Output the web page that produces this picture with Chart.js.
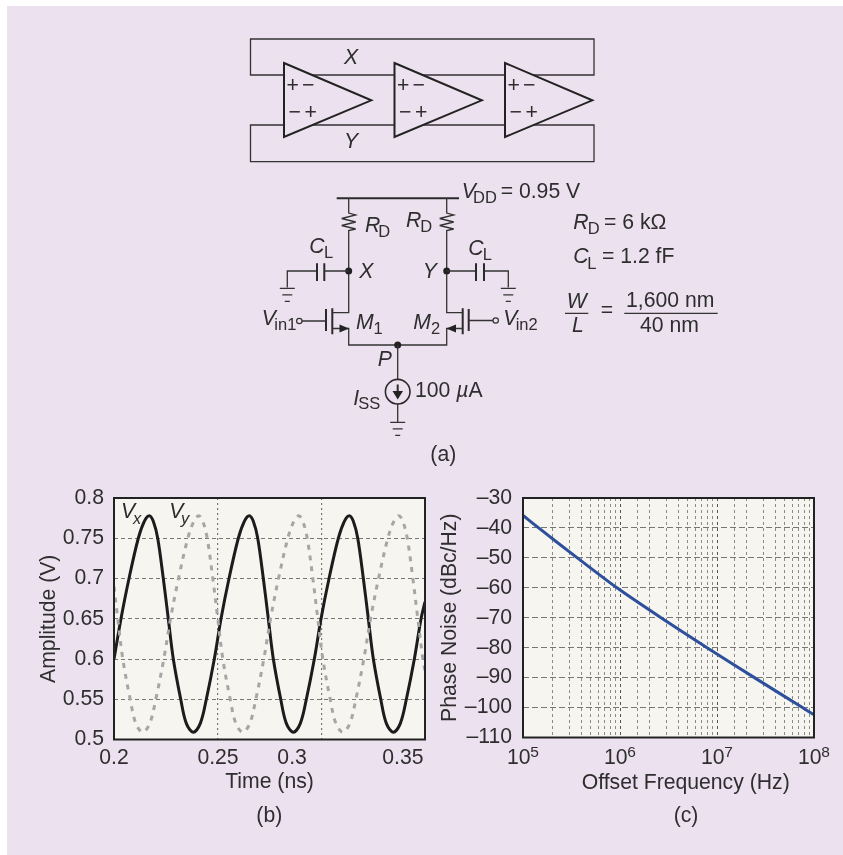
<!DOCTYPE html>
<html lang="en">

<head>
    <meta charset="UTF-8">
    <title>Ring oscillator</title>
    <style>
        body {
            margin: 0;
            background: #fff;
            width: 843px;
            height: 855px;
            overflow: hidden;
            position: relative;
            font-family: "Liberation Sans", Arial, sans-serif;
        }

        #panel {
            position: absolute;
            left: 7px;
            top: 6px;
            right: 0;
            bottom: 0;
            background: #ece1ef;
        }

        canvas {
            position: absolute;
            top: 470px;
        }

        #timeChart { left: 0; }
        #noiseChart { left: 430px; }

        svg {
            position: absolute;
            left: 0;
            top: 0;
            pointer-events: none;
        }

        svg text {
            font-family: "Liberation Sans", Arial, sans-serif;
            font-size: 21.2px;
            fill: #2e2e2e;
        }

        svg .i { font-style: italic; }
        svg text.s { font-size: 16.5px; }
        svg .w { fill: none; stroke: #333; stroke-width: 1.3; }
        svg .t { fill: none; stroke: #2a2a2a; stroke-width: 2; }
        svg .d { fill: #222; stroke: none; }
    </style>
</head>

<body>
    <div id="panel"></div>
    <canvas id="timeChart" width="430" height="360"></canvas>
    <canvas id="noiseChart" width="413" height="360"></canvas>

    <!-- schematic (a) and the loose labels -->
    <svg width="843" height="855" viewBox="0 0 843 855">
        <defs>
            <g id="amp">
                <path d="M284 63 L371.3 100.3 L284 137 Z" fill="#ece1ef" stroke="#222" stroke-width="2" />
                <text x="286.5" y="92">+</text>
                <text x="302" y="92">−</text>
                <text x="288.5" y="119">−</text>
                <text x="304.5" y="119">+</text>
            </g>
            <g id="gnd">
                <path class="w" d="M-7.5 0H7.5M-5 6.5H5M-2.5 13H2.5" stroke-width="1.6" />
            </g>
        </defs>

        <!-- ring of three stages -->
        <path class="w" d="M284 75H250.5V39H594V75H520M284 125H250.5V161.700H594V125H520M300 75H394.700M410 75H505M300 125H394.700M410 125H505" />
        <use href="#amp" />
        <use href="#amp" x="110.5" />
        <use href="#amp" x="221" />
        <text class="i" x="351" y="64" text-anchor="middle">X</text>
        <text class="i" x="351" y="148" text-anchor="middle">Y</text>

        <!-- supply rail and loads -->
        <path class="t" d="M336.7 198.3H459" />
        <path class="w" d="M348.7 198.3V213l7 2-14 3.500 14 3.500-14 3.500 14 3.500-7 1.500V312.700H332.300" />
        <path class="w" d="M446.700 198.300V213l7 2-14 3.500 14 3.500-14 3.500 14 3.500-7 1.500V312.700H462.700" />
        <circle class="d" cx="348.7" cy="271" r="3.5" />
        <circle class="d" cx="446.7" cy="271" r="3.5" />

        <!-- load capacitors -->
        <path class="w" d="M348.7 271H324.300M317 271H287.300V287.500M446.700 271H476M484 271H508.300V287.500" />
        <path class="t" d="M324.300 263.300V281M317 263.300V281M476 263.300V281M484 263.300V281" />
        <use href="#gnd" x="287.3" y="288.300" />
        <use href="#gnd" x="508.3" y="288.300" />

        <!-- input pair -->
        <path class="t" d="M332.300 308.300V334.300M326 309V331M462.700 308.300V334.300M468.700 309V331" />
        <path class="w" d="M326 321H302M468.700 320.500H493M332.300 328.500H348.700V345H446.700V328.500H462.700" />
        <path class="d" d="M349 328.500L339.500 324.500V332.500ZM446.400 328.500L456 324.500V332.500Z" />
        <circle cx="299.300" cy="321" r="2.700" fill="#ece1ef" stroke="#333" stroke-width="1.200" />
        <circle cx="495.700" cy="320.500" r="2.700" fill="#ece1ef" stroke="#333" stroke-width="1.200" />
        <circle class="d" cx="397.700" cy="345" r="3.500" />

        <!-- tail current source -->
        <path class="w" d="M397.700 345V379.400M397.700 404V422" />
        <circle cx="397.700" cy="391.700" r="12.300" fill="none" stroke="#2a2a2a" stroke-width="1.600" />
        <path class="t" d="M397.700 384.500V392" />
        <path class="d" d="M392.500 391H403L397.700 399.500Z" />
        <use href="#gnd" x="397.700" y="422.300" />

        <text class="i" x="461.700" y="198.300">V</text>
        <text class="s" x="473" y="203.300">DD</text>
        <text x="500.700" y="198.300">= 0.95 V</text>
        <text class="i" x="365" y="231.700">R</text>
        <text class="s" x="378.300" y="236.700">D</text>
        <text class="i" x="406" y="227.300">R</text>
        <text class="s" x="420.300" y="232.300">D</text>
        <text class="i" x="309.300" y="253.300">C</text>
        <text class="s" x="324" y="257.700">L</text>
        <text class="i" x="468.300" y="255">C</text>
        <text class="s" x="482.700" y="259.700">L</text>
        <text class="i" x="359.300" y="277.700">X</text>
        <text class="i" x="422.700" y="277.700">Y</text>
        <text class="i" x="261.700" y="325">V</text>
        <text class="s" x="274.300" y="330">in1</text>
        <text class="i" x="503.300" y="325">V</text>
        <text class="s" x="515.700" y="330">in2</text>
        <text class="i" x="356" y="329">M</text>
        <text class="s" x="373.500" y="334.300">1</text>
        <text class="i" x="413.300" y="329">M</text>
        <text class="s" x="431" y="334.300">2</text>
        <text class="i" x="377.700" y="365.700">P</text>
        <text class="i" x="353.300" y="405">I</text>
        <text class="s" x="358.300" y="409">SS</text>
        <text x="415" y="396.700">100 <tspan class="i">µ</tspan>A</text>
        <text x="443.300" y="461" text-anchor="middle">(a)</text>

        <text class="i" x="573.300" y="229">R</text>
        <text class="s" x="587.700" y="234">D</text>
        <text x="604" y="229">= 6 kΩ</text>
        <text class="i" x="573.300" y="263.300">C</text>
        <text class="s" x="587.300" y="269.300">L</text>
        <text x="602" y="263.300">= 1.2 fF</text>
        <text class="i" x="566.700" y="307.700">W</text>
        <path class="w" d="M565 313.300H588.300M624.300 313.300H717.700" />
        <text class="i" x="572" y="332.300">L</text>
        <text x="600.700" y="317">=</text>
        <text x="626" y="307.300">1,600 nm</text>
        <text x="640" y="332.300">40 nm</text>

        <!-- curve labels inside plot (b) -->
        <text class="i" x="121" y="518">V</text>
        <text class="i s" x="133" y="524">x</text>
        <text class="i" x="169.300" y="518">V</text>
        <text class="i s" x="181" y="524">y</text>

        <!-- off-centre in the original, so not a Chart.js axis title -->
        <text x="685.700" y="789" text-anchor="middle">Offset Frequency (Hz)</text>
        <text x="269.300" y="822" text-anchor="middle">(b)</text>
        <text x="686" y="822" text-anchor="middle">(c)</text>
    </svg>

    <script src="https://cdn.jsdelivr.net/npm/chart.js"></script>
    <script>
        // Plot (b): waveforms
        const vxTime = [0.2000, 0.20336, 0.20721, 0.21168, 0.21457, 0.21697, 0.21889, 0.22101, 0.2237, 0.2261, 0.22851, 0.23207, 0.23476, 0.23812,
            0.24149, 0.24438, 0.24822, 0.25144, 0.25529, 0.25976, 0.26265, 0.26505, 0.26697, 0.26909, 0.27178, 0.27418, 0.27659, 0.28015, 0.28284, 0.2862,
            0.28957, 0.29246, 0.2963, 0.29952, 0.30337, 0.30784, 0.31073, 0.31313, 0.31505, 0.31717, 0.31986, 0.32226, 0.32467, 0.32823, 0.33092, 0.33428,
            0.33765, 0.34054, 0.34438, 0.3476, 0.3495];
        const vxValues = [0.600, 0.650, 0.700, 0.750, 0.771, 0.778, 0.771, 0.750, 0.700, 0.650, 0.600, 0.550, 0.520, 0.509,
            0.520, 0.550, 0.600, 0.650, 0.700, 0.750, 0.771, 0.778, 0.771, 0.750, 0.700, 0.650, 0.600, 0.550, 0.520, 0.509,
            0.520, 0.550, 0.600, 0.650, 0.700, 0.750, 0.771, 0.778, 0.771, 0.750, 0.700, 0.650, 0.600, 0.550, 0.520, 0.509,
            0.520, 0.550, 0.600, 0.650, 0.671];
        const vyTime = [0.2000, 0.20182, 0.20423, 0.20779, 0.21048, 0.21384,
            0.21721, 0.2201, 0.22394, 0.22716, 0.23101, 0.23548, 0.23837, 0.24077, 0.24269, 0.24481, 0.2475, 0.2499, 0.25231, 0.25587, 0.25856, 0.26192,
            0.26529, 0.26818, 0.27202, 0.27524, 0.27909, 0.28356, 0.28645, 0.28885, 0.29077, 0.29289, 0.29558, 0.29798, 0.30039, 0.30395, 0.30664, 0.31,
            0.31337, 0.31626, 0.3201, 0.32332, 0.32717, 0.33164, 0.33453, 0.33693, 0.33885, 0.34097, 0.34366, 0.34606, 0.34847, 0.3495];
        const vyValues = [0.690, 0.650, 0.600, 0.550, 0.520, 0.509,
            0.520, 0.550, 0.600, 0.650, 0.700, 0.750, 0.771, 0.778, 0.771, 0.750, 0.700, 0.650, 0.600, 0.550, 0.520, 0.509,
            0.520, 0.550, 0.600, 0.650, 0.700, 0.750, 0.771, 0.778, 0.771, 0.750, 0.700, 0.650, 0.600, 0.550, 0.520, 0.509,
            0.520, 0.550, 0.600, 0.650, 0.700, 0.750, 0.771, 0.778, 0.771, 0.750, 0.700, 0.650, 0.600, 0.585];
        // the printed labels do not sit on the gridlines in the original
        const timeLabelAt = [0.2, 0.25, 0.2856, 0.3389];
        const timeLabels = ['0.2', '0.25', '0.3', '0.35'];
        const timeGridAt = [0.25, 0.3];

        // Plot (c): phase noise
        const offsetFreq = [1e5, 1.45e5, 3.63e5, 9.3e5, 2.65e6, 7.9e6, 2.43e7, 7.6e7, 1e8];
        const phaseNoise = [-35.8, -40, -50, -60, -70, -80, -90, -100, -102.4];
        const freqTicks = [1e5, 1e6, 1e7, 1e8];
        const freqExponents = ['5', '6', '7', '8'];

        const textColor = '#2e2e2e';
        const fontFamily = '"Liberation Sans", Arial, sans-serif';
        const tickFont = { family: fontFamily, size: 21.2 };

        // plot background and heavy frame
        const framePlugin = {
            id: 'frame',
            beforeDraw(chart) {
                const { ctx, chartArea: a } = chart;
                ctx.save();
                ctx.fillStyle = '#f6f5f0';
                ctx.fillRect(a.left, a.top, a.width, a.height);
                ctx.restore();
            },
            afterDatasetsDraw(chart) {
                const { ctx, chartArea: a } = chart;
                ctx.save();
                ctx.strokeStyle = '#222';
                ctx.lineWidth = 2;
                ctx.strokeRect(a.left, a.top, a.width, a.height);
                ctx.restore();
            }
        };

        // powers of ten with a proper raised exponent
        const powerLabels = {
            id: 'powerLabels',
            afterDraw(chart) {
                const { ctx, chartArea: a, scales } = chart;
                ctx.save();
                ctx.fillStyle = textColor;
                ctx.textAlign = 'left';
                ctx.textBaseline = 'alphabetic';
                freqTicks.forEach((f, i) => {
                    const px = scales.x.getPixelForValue(f);
                    ctx.font = '21.2px ' + fontFamily;
                    ctx.fillText('10', px - 16, a.bottom + 26.5);
                    ctx.font = '15.5px ' + fontFamily;
                    ctx.fillText(freqExponents[i], px + 7.3, a.bottom + 19.5);
                });
                ctx.restore();
            }
        };

        new Chart(document.getElementById('timeChart'), {
            type: 'line',
            plugins: [framePlugin],
            data: {
                datasets: [{
                    data: vyTime.map((t, i) => ({ x: t, y: vyValues[i] })),
                    borderColor: '#a6a6a6',
                    borderWidth: 3,
                    borderDash: [5, 6],
                    pointRadius: 0,
                    tension: 0.35
                }, {
                    data: vxTime.map((t, i) => ({ x: t, y: vxValues[i] })),
                    borderColor: '#1c1c1c',
                    borderWidth: 3,
                    pointRadius: 0,
                    tension: 0.35
                }]
            },
            options: {
                responsive: false,
                animation: false,
                layout: { padding: { top: 28, right: 5 } },
                plugins: { legend: { display: false }, tooltip: { enabled: false } },
                scales: {
                    x: {
                        type: 'linear',
                        min: 0.2,
                        max: 0.3495,
                        afterFit: s => { s.height = 90.5; },
                        afterBuildTicks: s => {
                            s.ticks = [...timeLabelAt, ...timeGridAt].filter((v, i, all) => all.indexOf(v) === i)
                                .sort((a, b) => a - b).map(v => ({ value: v }));
                        },
                        ticks: {
                            autoSkip: false,
                            maxRotation: 0,
                            padding: 6,
                            color: textColor,
                            font: tickFont,
                            callback: v => {
                                const i = timeLabelAt.indexOf(v);
                                return i < 0 ? '' : timeLabels[i];
                            }
                        },
                        grid: {
                            drawTicks: false,
                            lineWidth: 1.2,
                            color: c => timeGridAt.includes(c.tick.value) ? '#777' : 'transparent'
                        },
                        border: { display: false, dash: [2, 3] },
                        title: { display: true, text: 'Time (ns)', color: textColor, font: tickFont, padding: { top: 0, bottom: 35.3 } }
                    },
                    y: {
                        min: 0.5,
                        max: 0.8,
                        afterFit: s => { s.width = 114; },
                        ticks: {
                            stepSize: 0.05,
                            padding: 10,
                            color: textColor,
                            font: tickFont,
                            callback: v => String(+v.toFixed(2))
                        },
                        grid: { drawTicks: false, lineWidth: 1, color: '#777' },
                        border: { display: false, dash: [4, 3] },
                        title: { display: true, text: 'Amplitude (V)', color: textColor, font: tickFont, padding: { top: 36.3, bottom: 0 } }
                    }
                }
            }
        });

        new Chart(document.getElementById('noiseChart'), {
            type: 'line',
            plugins: [framePlugin, powerLabels],
            data: {
                datasets: [{
                    data: offsetFreq.map((f, i) => ({ x: f, y: phaseNoise[i] })),
                    borderColor: '#2e4f9c',
                    borderWidth: 3,
                    pointRadius: 0,
                    tension: 0.3
                }]
            },
            options: {
                responsive: false,
                animation: false,
                layout: { padding: { top: 28, right: 29 } },
                plugins: { legend: { display: false }, tooltip: { enabled: false } },
                scales: {
                    x: {
                        type: 'logarithmic',
                        min: 1e5,
                        max: 1e8,
                        afterFit: s => { s.height = 92.5; },
                        ticks: {
                            autoSkip: false,
                            maxRotation: 0,
                            callback: () => ''
                        },
                        grid: {
                            drawTicks: false,
                            lineWidth: 1,
                            color: c => freqTicks.includes(c.tick.value) ? '#555' : '#8a8a8a'
                        },
                        border: { display: false, dash: [3, 3] }
                    },
                    y: {
                        min: -110,
                        max: -30,
                        afterFit: s => { s.width = 93; },
                        ticks: {
                            stepSize: 10,
                            padding: 11,
                            color: textColor,
                            font: tickFont,
                            callback: v => '–' + Math.abs(v)
                        },
                        grid: { drawTicks: false, lineWidth: 1, color: '#777' },
                        border: { display: false, dash: [6, 3] },
                        title: { display: true, text: 'Phase Noise (dBc/Hz)', color: textColor, font: tickFont, padding: { top: 7.3, bottom: 0 } }
                    }
                }
            }
        });
    </script>
</body>

</html>
